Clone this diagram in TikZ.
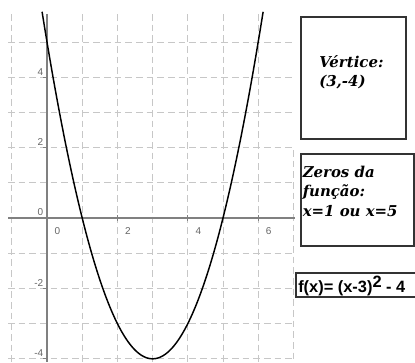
\documentclass[tikz,border=0pt]{standalone}
\usepackage{fontspec}
\newfontfamily\lblfont{Liberation Sans}
\newfontfamily\boxfont{DejaVu Serif}
\begin{document}
\begin{tikzpicture}[x=0.75pt,y=-0.75pt,
  gridline/.style={draw=black!22, line width=0.75pt, dash pattern=on 5pt off 3pt},
  axisline/.style={draw=black!50, line width=0.9pt},
  curve/.style={draw=black, line width=1.1pt},
  ticklbl/.style={font=\lblfont\fontsize{7.5}{9}\selectfont, text=black!60, inner sep=0pt},
  box/.style={draw=black!80, line width=0.8pt, fill=white, inner sep=0pt},
  boxtext/.style={font=\boxfont\bfseries\itshape\fontsize{11.2}{14.5}\selectfont, align=left, inner sep=0pt, anchor=north west},
  formula/.style={font=\lblfont\bfseries\fontsize{12.3}{14}\selectfont, inner sep=0pt, anchor=west}]
\useasboundingbox (0,0) rectangle (415,362);
\fill[white] (0,0) rectangle (415,362);
% grid
\foreach \i in {-1,1,2,3,4,5,6} \draw[gridline] ({47+35.2*\i},14) -- ({47+35.2*\i},362);
\draw[gridline] (293.4,150) -- (293.4,362);
\foreach \j in {-4,-3,-2,-1,1,2,3,4,5} \draw[gridline] (8,{218-35.2*\j}) -- (295,{218-35.2*\j});
% axes
\coordinate (xl) at (8,218);
\coordinate (xr) at (295,218);
\coordinate (yt) at (47,14);
\coordinate (yb) at (47,362);
\draw[axisline] (xl) -- (xr);
\draw[axisline] (yt) -- (yb);
\foreach \i in {2,4,6} \draw[axisline,line width=0.7pt] ({47+35.2*\i},215) -- ++(0,6);
\foreach \j in {-4,-2,2,4} \draw[axisline,line width=0.7pt] (43,{218-35.2*\j}) -- ++(4,0);
% tick labels
\foreach \i in {0,2,4,6} \node[ticklbl] (xl\i) at ({57.5+35.2*\i},231.5) {\i};
\foreach \j in {-4,-2,0,2,4} \node[ticklbl, anchor=east] (yl\j) at (43.5,{212.5-35.2*\j}) {\j};
% curve
\draw[curve] plot[domain=-0.14:6.14, samples=150, smooth] ({47+35.2*\x},{218-35.2*((\x-3)^2-4)});
% boxes
\node[box, minimum width=105*0.75pt, minimum height=122*0.75pt] (vbox) at (353.5,78) {};
\node[boxtext] (vtext) at (319,55) {Vértice:\\(3,-4)};
\node[box, minimum width=113*0.75pt, minimum height=92*0.75pt] (zbox) at (357.5,200) {};
\node[boxtext] (ztext) at (302.5,166) {Zeros da\\função:\\x=1 ou x=5};
\node[box, minimum width=124*0.75pt, minimum height=24*0.75pt] (fbox) at (358,285) {};
\node[formula] (ftext) at (298,286) {f(x)= (x-3)\raisebox{3.5pt}{2} - 4};
\end{tikzpicture}
\end{document}
